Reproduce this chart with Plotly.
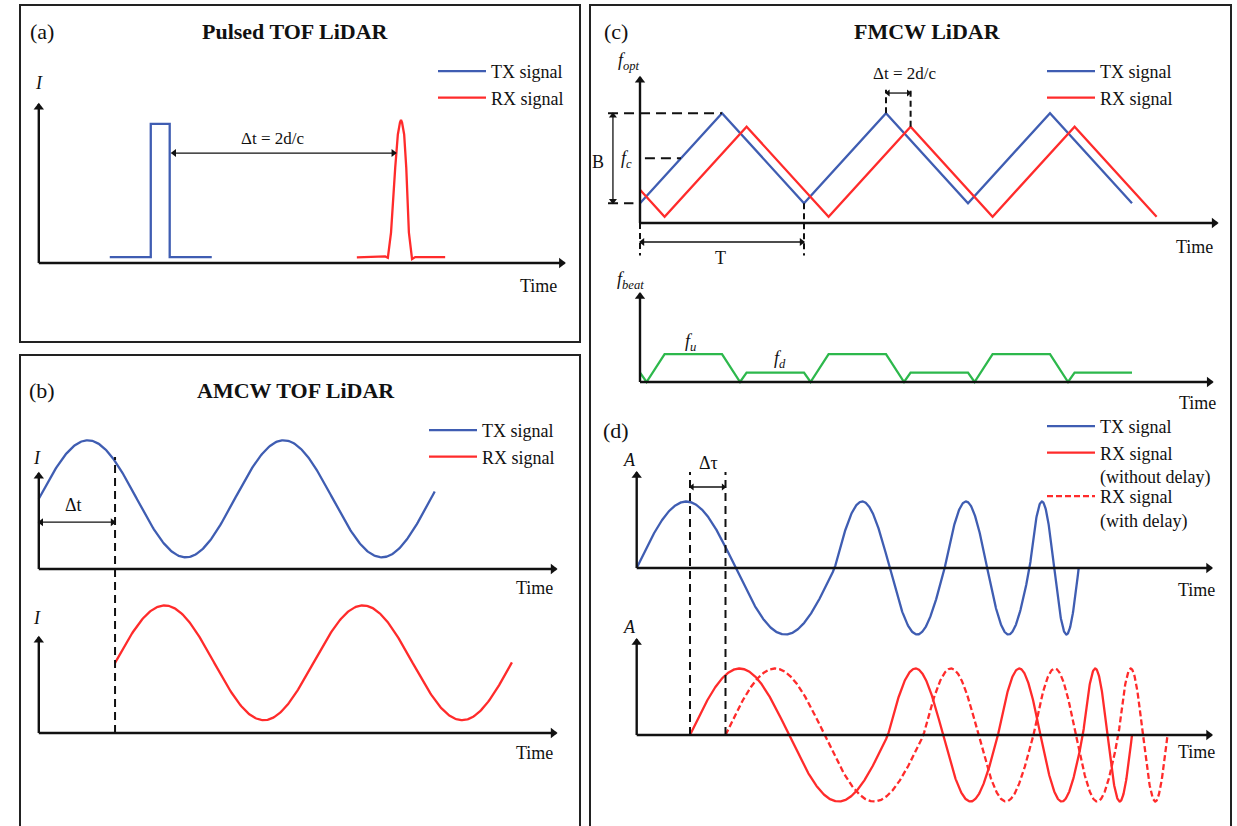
import numpy as np
import plotly.graph_objects as go

W, H = 1237, 826
FONT = "Liberation Serif"
BLUE = "#3F5DB2"
RED = "#FF2B2B"
GREEN = "#2DB84C"
INK = "#111111"

# ---------------- data ----------------
# (a) Pulsed TOF LiDAR  (time in arbitrary units, intensity normalised)
A_TX_T = [1.35, 2.13, 2.13, 2.49, 2.49, 3.29]
A_TX_I = [0.045, 0.045, 1.05, 1.05, 0.045, 0.045]
A_RX_T = [6.05, 6.40, 6.59, 6.64, 6.70, 6.78, 6.83, 6.87, 6.89, 6.91, 6.95, 6.99, 7.04, 7.10,
          7.16, 7.35, 7.73]
A_RX_I = [0.043, 0.045, 0.05, 0.04, 0.23, 0.72, 0.97, 1.06, 1.08, 1.06, 0.97, 0.72, 0.23, 0.03,
          0.045, 0.045, 0.045]
A_AXIS_END = [10.0, 1.2]          # time axis end, intensity axis end
A_DT_SPAN = [2.53, 6.79]           # Δt arrow between pulses
A_DT_LEVEL = 0.83

# (b) AMCW TOF LiDAR  (time in modulation periods)
B_TX_SPAN = [0.0, 2.02]
B_RX_SPAN = [0.389, 2.414]
B_PERIOD = [1.0, 1.012]            # TX, RX
B_OFFSET = 1.2
B_AMP = [1.0, 0.98]                # TX, RX
B_AXIS_END = [2.64, 1.64]
B_DT_LEVEL = 0.80

# (c) FMCW LiDAR  (time in chirp periods T, frequency in units of B)
C_TX_T = [0, 0.5, 1.0, 1.5, 2.0, 2.5, 3.0]
C_TX_F = [0.22, 1.22, 0.22, 1.22, 0.22, 1.22, 0.22]
C_RX_T = [0, 0.15, 0.65, 1.15, 1.65, 2.15, 2.65, 3.15]
C_RX_F = [0.37, 0.07, 1.07, 0.07, 1.07, 0.07, 1.07, 0.07]
C_BEAT_T = [0, 0.04, 0.15, 0.5, 0.61, 0.65, 1.0, 1.04, 1.15, 1.5, 1.61, 1.65,
            2.0, 2.04, 2.15, 2.5, 2.61, 2.65, 3.0]
C_BEAT_F = [0.15, 0, 0.45, 0.45, 0, 0.15, 0.15, 0, 0.45, 0.45, 0, 0.15,
            0.15, 0, 0.45, 0.45, 0, 0.15, 0.15]
C_AXIS_END = [3.52, 1.62]
C_BEAT_AXIS_END = [3.49, 1.43]
C_FC = 0.72

# (d) chirped waveform  (upward zero crossings of each cycle)
D_CYCLE_EDGES = [0.0, 1.98, 3.08, 3.93, 4.42]
D_DELAYS = [0.533, 0.888]          # RX without delay / with delay start
D_AXIS_END = [5.75, 1.44]

# ---------------- layout helpers ----------------
layout_axes = {}
SCALES = {}


def make_axes(n, box, origin, scale):
    L, T, R, B = box
    x0p, y0p = origin
    sx, sy = scale
    SCALES[n] = (sx, sy)
    xs = "xaxis" if n == 1 else f"xaxis{n}"
    ys = "yaxis" if n == 1 else f"yaxis{n}"
    layout_axes[xs] = dict(domain=[L / W, R / W], range=[(L - x0p) / sx, (R - x0p) / sx],
                           visible=False, anchor="y" if n == 1 else f"y{n}", fixedrange=True)
    layout_axes[ys] = dict(domain=[1 - B / H, 1 - T / H], range=[(y0p - B) / sy, (y0p - T) / sy],
                           visible=False, anchor="x" if n == 1 else f"x{n}", fixedrange=True)


def refs(n):
    return ("x", "y") if n == 1 else (f"x{n}", f"y{n}")


make_axes(1, (21, 7, 579, 340), (38.8, 263), (52.57, 132.5))
make_axes(2, (21, 420, 579, 605), (38.8, 569), (196, 58.5))
make_axes(3, (21, 420, 579, 800), (38.8, 733), (196, 58.5))
make_axes(4, (592, 40, 1229, 270), (640, 223), (164, 90))
make_axes(5, (592, 270, 1229, 415), (640, 382), (164, 62))
make_axes(6, (592, 415, 1229, 655), (636.7, 568), (100, 66.5))
make_axes(7, (592, 415, 1229, 825), (636.7, 735), (100, 66.5))

fig = go.Figure()
annotations = []
shapes = []


def line(n, x, y, color, width=2.3, dash=None, name=None, legend=None):
    xr, yr = refs(n)
    fig.add_trace(go.Scatter(x=list(x), y=list(y), mode="lines", xaxis=xr, yaxis=yr,
                             line=dict(color=color, width=width, dash=dash),
                             name=name, showlegend=name is not None, legend=legend,
                             hoverinfo="skip"))


def arrow(n, x0, y0, x1, y1, both=False, width=2.4, size=9):
    """Line with triangular head(s) drawn as markers, head pulled back so its tip sits at the end."""
    xr, yr = refs(n)
    sx, sy = SCALES[n]
    fig.add_trace(go.Scatter(x=[x0, x1], y=[y0, y1], mode="lines", xaxis=xr, yaxis=yr,
                             line=dict(color=INK, width=width), showlegend=False,
                             hoverinfo="skip"))
    back = size * 0.35
    heads = [(x1, y1, x0, y0)] + ([(x0, y0, x1, y1)] if both else [])
    hx, hy, hs = [], [], []
    for (tx, ty, fx, fy) in heads:
        if abs(ty - fy) * sy < abs(tx - fx) * sx:      # horizontal
            d = 1 if tx > fx else -1
            hx.append(tx - d * back / sx)
            hy.append(ty)
            hs.append("triangle-right" if d > 0 else "triangle-left")
        else:
            d = 1 if ty > fy else -1
            hx.append(tx)
            hy.append(ty - d * back / sy)
            hs.append("triangle-up" if d > 0 else "triangle-down")
    fig.add_trace(go.Scatter(x=hx, y=hy, mode="markers", xaxis=xr, yaxis=yr, cliponaxis=False,
                             marker=dict(symbol=hs, size=size, color=INK, line=dict(width=0)),
                             showlegend=False, hoverinfo="skip"))


def label(n, x, y, text, size=18, bold=False):
    xr, yr = refs(n)
    annotations.append(dict(x=x, y=y, xref=xr, yref=yr, text=f"<b>{text}</b>" if bold else text,
                            xanchor="center", yanchor="middle", showarrow=False,
                            font=dict(family=FONT, size=size, color=INK)))


def paper_label(px, py, text, size=18, bold=False):
    annotations.append(dict(x=px / W, y=1 - py / H, xref="paper", yref="paper",
                            xanchor="center", yanchor="middle",
                            text=f"<b>{text}</b>" if bold else text, showarrow=False,
                            font=dict(family=FONT, size=size, color=INK)))


def axes_arrows(n, xend, yend):
    arrow(n, 0, 0, xend, 0)
    arrow(n, 0, 0, 0, yend)


DASH = "8px,5px"

# ---------------- (a) ----------------
line(1, A_TX_T, A_TX_I, BLUE, name="TX signal", legend="legend")
line(1, A_RX_T, A_RX_I, RED, name="RX signal", legend="legend")
axes_arrows(1, *A_AXIS_END)
arrow(1, A_DT_SPAN[0], A_DT_LEVEL, A_DT_SPAN[1], A_DT_LEVEL, both=True, width=1.3, size=7)
label(1, 4.45, 0.94, "Δt = 2d/c", 17)
label(1, 0.0, 1.36, "<i>I</i>", 18)
label(1, 9.5, -0.17, "Time", 18)
paper_label(42, 31, "(a)", 22)
paper_label(295, 31, "Pulsed TOF LiDAR", 22, bold=True)

# ---------------- (b) ----------------
tb = np.linspace(B_TX_SPAN[0], B_TX_SPAN[1], 400)
line(2, tb, B_OFFSET + B_AMP[0] * np.sin(2 * np.pi * tb / B_PERIOD[0]), BLUE,
     name="TX signal", legend="legend2")
tr = np.linspace(B_RX_SPAN[0], B_RX_SPAN[1], 400)
line(3, tr, B_OFFSET + B_AMP[1] * np.sin(2 * np.pi * (tr - B_RX_SPAN[0]) / B_PERIOD[1]), RED,
     name="RX signal", legend="legend2")
axes_arrows(2, *B_AXIS_END)
axes_arrows(3, *B_AXIS_END)
line(3, [B_RX_SPAN[0], B_RX_SPAN[0]], [0, 4.72], INK, width=2, dash=DASH)
arrow(2, 0, B_DT_LEVEL, B_RX_SPAN[0], B_DT_LEVEL, both=True, width=1.3, size=7)
label(2, 0.175, 1.09, "Δt", 18)
label(2, -0.01, 1.90, "<i>I</i>", 18)
label(3, -0.01, 1.96, "<i>I</i>", 18)
label(2, 2.53, -0.32, "Time", 18)
label(3, 2.53, -0.34, "Time", 18)
paper_label(42, 390, "(b)", 22)
paper_label(296, 390, "AMCW TOF LiDAR", 22, bold=True)

# ---------------- (c) ----------------
line(4, C_TX_T, C_TX_F, BLUE, name="TX signal", legend="legend3")
line(4, C_RX_T, C_RX_F, RED, name="RX signal", legend="legend3")
axes_arrows(4, *C_AXIS_END)
CDASH = "10px,6px"
fmax, fmin = max(C_TX_F), min(C_TX_F)
line(4, [-0.195, 0.5], [fmax, fmax], INK, width=2, dash=CDASH)
line(4, [-0.195, -0.04], [fmin, fmin], INK, width=2, dash=CDASH)
line(4, [0.03, (C_FC - fmin) / 2], [C_FC, C_FC], INK, width=2, dash=CDASH)
arrow(4, -0.165, fmin, -0.165, fmax, both=True, width=1.3, size=7)
label(4, -0.256, 0.68, "B", 18)
label(4, -0.08, 0.70, "<i>f</i><sub><i>c</i></sub>", 18)
label(4, -0.07, 1.79, "<i>f</i><sub><i>opt</i></sub>", 18)
# Δt bracket
line(4, [1.5, 1.5], [fmax, 1.48], INK, width=2, dash="6px,4px")
line(4, [1.65, 1.65], [max(C_RX_F), 1.48], INK, width=2, dash="6px,4px")
arrow(4, 1.5, 1.444, 1.65, 1.444, both=True, width=1.3, size=6)
label(4, 1.61, 1.656, "Δt = 2d/c", 17)
# T bracket
line(4, [0, 0], [0, -0.36], INK, width=2, dash="6px,4px")
line(4, [1.0, 1.0], [fmin, -0.36], INK, width=2, dash="6px,4px")
arrow(4, 0, -0.211, 1.0, -0.211, both=True, width=1.3, size=7)
label(4, 0.49, -0.39, "T", 18)
label(4, 3.38, -0.27, "Time", 18)

line(5, C_BEAT_T, C_BEAT_F, GREEN)
axes_arrows(5, *C_BEAT_AXIS_END)
label(5, -0.055, 1.645, "<i>f</i><sub><i>beat</i></sub>", 18)
label(5, 0.31, 0.645, "<i>f</i><sub><i>u</i></sub>", 18)
label(5, 0.855, 0.355, "<i>f</i><sub><i>d</i></sub>", 18)
label(5, 3.40, -0.34, "Time", 18)
paper_label(616, 32, "(c)", 22)
paper_label(927, 32, "FMCW LiDAR", 22, bold=True)

# ---------------- (d) ----------------
cycles = np.arange(len(D_CYCLE_EDGES))
td = np.linspace(D_CYCLE_EDGES[0], D_CYCLE_EDGES[-1], 1200)
chirp = np.sin(2 * np.pi * np.interp(td, D_CYCLE_EDGES, cycles))
line(6, td, chirp, BLUE, name="TX signal", legend="legend4")
line(7, td + D_DELAYS[0], chirp, RED, name="RX signal<br>(without delay)", legend="legend4")
line(7, td + D_DELAYS[1], chirp, RED, dash="6px,3px", name="RX signal<br>(with delay)",
     legend="legend5")
axes_arrows(6, *D_AXIS_END)
axes_arrows(7, *D_AXIS_END)
line(7, [D_DELAYS[0], D_DELAYS[0]], [0, 3.955], INK, width=2, dash=DASH)
line(7, [D_DELAYS[1], D_DELAYS[1]], [0, 3.955], INK, width=2, dash=DASH)
arrow(6, D_DELAYS[0], 1.218, D_DELAYS[1], 1.218, both=True, width=1.3, size=6)
label(6, 0.72, 1.58, "Δτ", 18)
label(6, -0.077, 1.624, "<i>A</i>", 18)
label(7, -0.077, 1.624, "<i>A</i>", 18)
label(6, 5.60, -0.33, "Time", 18)
label(7, 5.60, -0.256, "Time", 18)
paper_label(616, 430, "(d)", 22)

# ---------------- panel frames ----------------
for (x0, y0, x1, y1) in [(20, 5, 580, 342), (20, 355, 580, 840), (590, 5, 1231, 840)]:
    shapes.append(dict(type="rect", xref="paper", yref="paper", x0=x0 / W, x1=x1 / W,
                       y0=1 - y1 / H, y1=1 - y0 / H, line=dict(color="#222222", width=2)))


def legend_cfg(px, py):
    return dict(x=px / W, y=1 - py / H, xanchor="left", yanchor="top",
                font=dict(family=FONT, size=18, color=INK), bgcolor="rgba(0,0,0,0)",
                borderwidth=0, valign="top", tracegroupgap=0, itemwidth=48)


fig.update_layout(
    width=W, height=H, margin=dict(l=0, r=0, t=0, b=0),
    paper_bgcolor="white", plot_bgcolor="rgba(0,0,0,0)",
    annotations=annotations, shapes=shapes,
    legend=legend_cfg(433, 53), legend2=legend_cfg(424, 412),
    legend3=legend_cfg(1042, 53), legend4=legend_cfg(1042, 408),
    legend5=legend_cfg(1042, 478),
    **layout_axes,
)
fig.write_html("out.html", config={"displayModeBar": False},
               post_script="document.body.style.margin='0px';")
